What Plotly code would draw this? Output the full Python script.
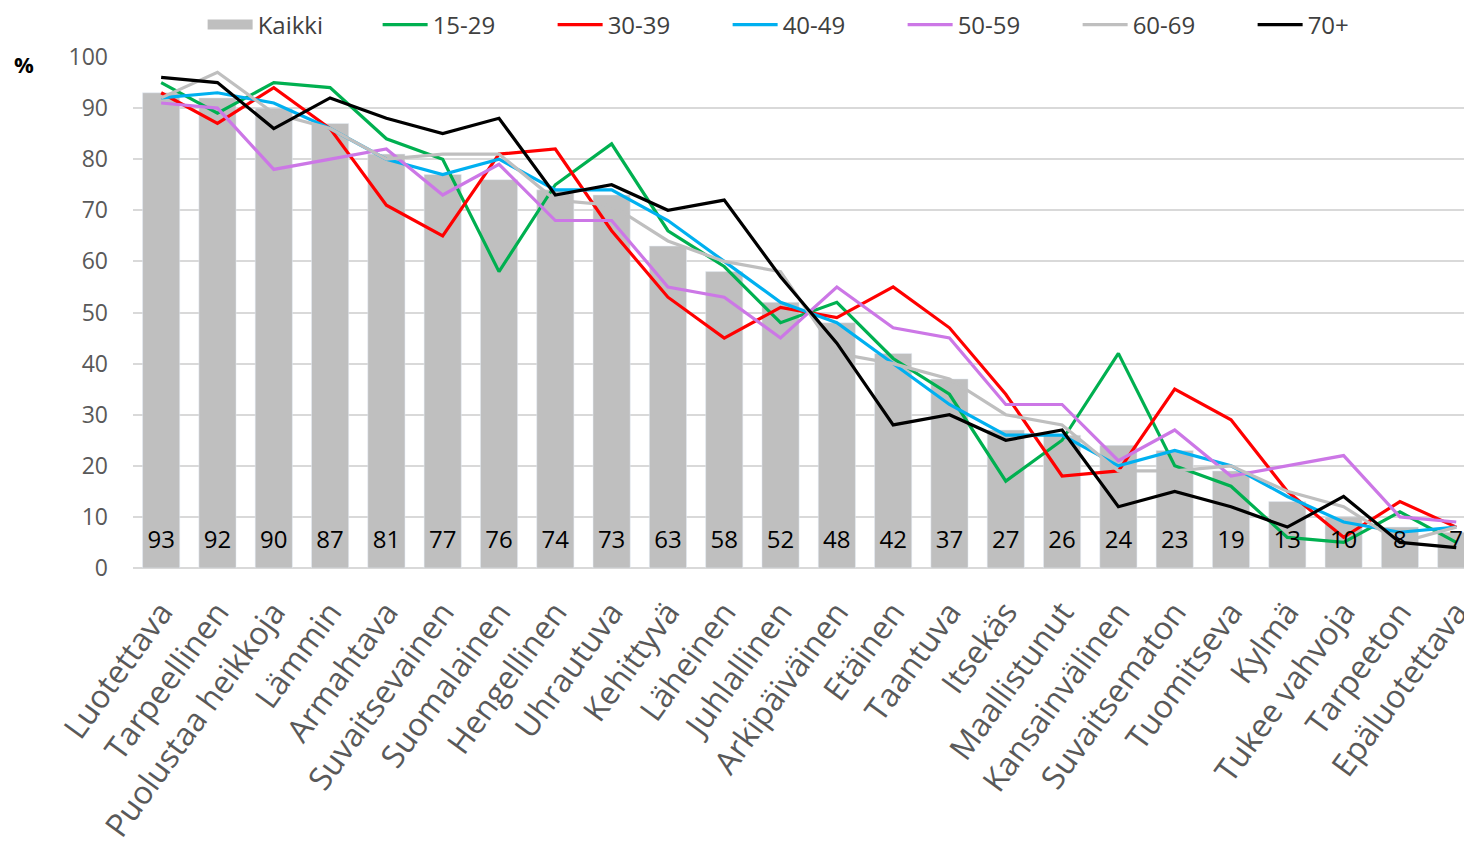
import plotly.graph_objects as go

categories = ["Luotettava", "Tarpeellinen", "Puolustaa heikkoja", "Lämmin", "Armahtava",
              "Suvaitsevainen", "Suomalainen", "Hengellinen", "Uhrautuva", "Kehittyvä",
              "Läheinen", "Juhlallinen", "Arkipäiväinen", "Etäinen", "Taantuva", "Itsekäs",
              "Maallistunut", "Kansainvälinen", "Suvaitsematon", "Tuomitseva", "Kylmä",
              "Tukee vahvoja", "Tarpeeton", "Epäluotettava"]

kaikki = [93, 92, 90, 87, 81, 77, 76, 74, 73, 63, 58, 52, 48, 42, 37, 27, 26, 24, 23, 19, 13, 10, 8, 7]
age_15_29 = [95, 89, 95, 94, 84, 80, 58, 75, 83, 66, 59, 48, 52, 41, 34, 17, 25, 42, 20, 16, 6, 5, 11, 5]
age_30_39 = [93, 87, 94, 86, 71, 65, 81, 82, 66, 53, 45, 51, 49, 55, 47, 34, 18, 19, 35, 29, 15, 6, 13, 8]
age_40_49 = [92, 93, 91, 86, 80, 77, 80, 74, 74, 68, 60, 52, 48, 40, 32, 26, 26, 20, 23, 20, 14, 9, 7, 8]
age_50_59 = [91, 90, 78, 80, 82, 73, 79, 68, 68, 55, 53, 45, 55, 47, 45, 32, 32, 21, 27, 18, 20, 22, 10, 9]
age_60_69 = [92, 97, 89, 86, 80, 81, 81, 72, 71, 64, 60, 58, 42, 40, 37, 30, 28, 19, 19, 20, 15, 12, 5, 8]
age_70 = [96, 95, 86, 92, 88, 85, 88, 73, 75, 70, 72, 57, 44, 28, 30, 25, 27, 12, 15, 12, 8, 14, 5, 4]

series = [
    ("15-29", age_15_29, "#00B050"),
    ("30-39", age_30_39, "#FF0000"),
    ("40-49", age_40_49, "#00B0F0"),
    ("50-59", age_50_59, "#CC77E6"),
    ("60-69", age_60_69, "#BFBFBF"),
    ("70+", age_70, "#000000"),
]

FONT = "Open Sans"
LABEL_Y = 5  # value-label height inside the bars (axis units)

fig = go.Figure()
# legend entry for the bars, drawn as a wide gray rectangle
fig.add_trace(go.Scatter(x=[categories[0]], y=[None], name="Kaikki", mode="lines",
                         line=dict(color="#BFBFBF", width=16), hoverinfo="skip"))
fig.add_trace(go.Bar(
    x=categories, y=kaikki, name="Kaikki", marker_color="#BFBFBF", width=0.66,
    showlegend=False,
))
for name, vals, col in series:
    fig.add_trace(go.Scatter(x=categories, y=vals, name=name, mode="lines",
                             line=dict(color=col, width=3.2)))
fig.add_trace(go.Scatter(
    x=categories, y=[LABEL_Y] * len(categories), mode="text",
    text=[str(v) for v in kaikki], textposition="middle center",
    textfont=dict(family=FONT, size=24, color="#000000"),
    showlegend=False, hoverinfo="skip",
))

fig.update_layout(
    width=1472, height=845,
    margin=dict(l=125, r=8, t=49, b=285, autoexpand=False),
    plot_bgcolor="white", paper_bgcolor="white",
    font=dict(family=FONT, color="#595959"),
    showlegend=True,
    legend=dict(orientation="h", x=0.052, xanchor="left", y=1.0626, yanchor="middle",
                font=dict(family=FONT, size=24, color="#404040"),
                itemwidth=45, entrywidth=115, entrywidthmode="pixels",
                tracegroupgap=0, traceorder="normal"),
)
fig.update_xaxes(
    type="category", categoryorder="array", categoryarray=categories,
    range=[-0.5, 23.28], tickangle=-54, tickfont=dict(family=FONT, size=32, color="#595959"),
    showgrid=False, showline=False, ticks="", automargin=False, ticklabelstandoff=18,
)
fig.update_yaxes(
    range=[0, 100], dtick=10, tickfont=dict(family=FONT, size=23, color="#595959"),
    showgrid=True, gridcolor="#D9D9D9", gridwidth=1.5, zeroline=True, zerolinecolor="#D9D9D9",
    zerolinewidth=1.5, ticks="", automargin=False, ticklabelstandoff=24,
)
fig.add_annotation(text="<b>%</b>", xref="paper", yref="paper", x=-0.0814, y=0.986,
                   xanchor="center", yanchor="middle",
                   showarrow=False, font=dict(family=FONT, size=22, color="#000000"))
fig.write_html("out.html")
